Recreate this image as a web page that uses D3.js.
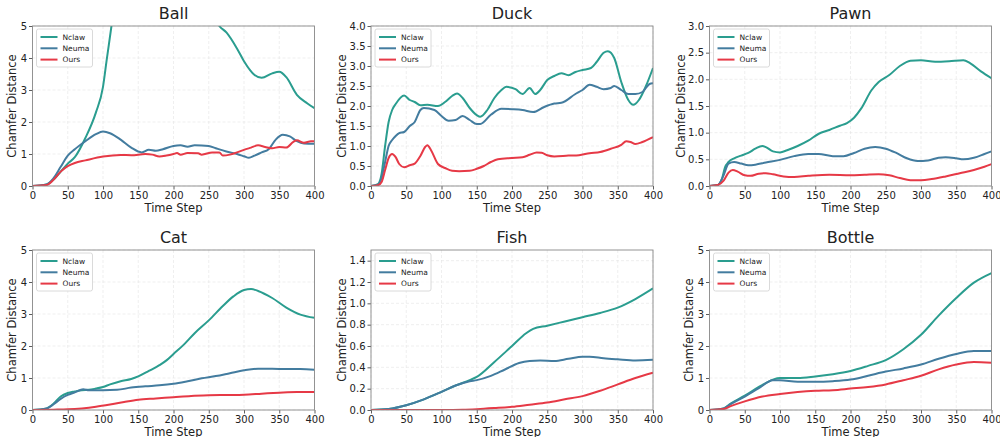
<!DOCTYPE html>
<html>
<head>
<meta charset="utf-8">
<script src="https://cdn.jsdelivr.net/npm/d3@7"></script>
<style>
  body { margin: 0; background: #fff; }
  text { font-family: "DejaVu Sans", sans-serif; fill: #222; }
</style>
</head>
<body>
<script>
// series names + colors
const seriesNames = ["Nclaw", "Neuma", "Ours"];
const seriesColors = ["#2a9d8f", "#437c9f", "#e63946"];
const xTicks = [0, 50, 100, 150, 200, 250, 300, 350, 400];

// values, [time step, chamfer distance]
const ballNclaw = [[0,0],[20,0.05],[30,0.2],[40,0.45],[50,0.7],[60,0.9],[75,1.5],[90,2.3],[100,3.1],[105,3.9],[112,5.0],[120,6.3],[150,8.5],[190,9],[230,7.5],[255,5.4],[265,5.0],[275,4.8],[290,4.3],[300,3.9],[315,3.47],[325,3.38],[340,3.52],[350,3.57],[360,3.4],[375,2.85],[390,2.58],[400,2.43]];
const ballNeuma = [[0,0],[20,0.05],[30,0.25],[40,0.6],[50,0.95],[60,1.15],[75,1.4],[90,1.62],[100,1.7],[110,1.65],[125,1.45],[140,1.2],[155,1.05],[165,1.13],[175,1.1],[185,1.15],[200,1.25],[210,1.27],[220,1.23],[230,1.27],[250,1.25],[260,1.18],[275,1.08],[290,1.0],[300,0.93],[307,0.88],[315,0.95],[325,1.05],[335,1.15],[345,1.45],[355,1.6],[365,1.55],[375,1.4],[385,1.33],[400,1.32]];
const ballOurs = [[0,0],[20,0.03],[30,0.2],[40,0.45],[50,0.62],[60,0.72],[75,0.8],[100,0.92],[125,0.97],[140,0.96],[160,1.0],[170,0.98],[180,0.92],[190,0.95],[200,1.0],[205,1.03],[210,0.98],[220,1.03],[235,1.02],[240,0.98],[255,1.05],[265,1.05],[270,0.95],[280,0.98],[290,1.05],[300,1.13],[310,1.2],[320,1.27],[330,1.22],[340,1.18],[350,1.22],[360,1.2],[370,1.38],[375,1.43],[385,1.35],[395,1.4],[400,1.4]];

const duckNclaw = [[0,0],[10,0.05],[15,0.3],[20,1.0],[25,1.6],[30,1.9],[35,2.05],[47,2.26],[55,2.15],[62,2.1],[70,2.02],[80,2.03],[95,2.0],[105,2.1],[115,2.25],[122,2.31],[130,2.2],[140,1.95],[150,1.77],[155,1.73],[165,1.9],[175,2.2],[185,2.4],[192,2.48],[205,2.42],[215,2.3],[225,2.45],[233,2.3],[240,2.4],[250,2.65],[260,2.75],[270,2.82],[280,2.77],[290,2.85],[300,2.9],[312,2.95],[320,3.1],[330,3.33],[336,3.37],[345,3.2],[355,2.6],[365,2.15],[372,2.03],[380,2.15],[390,2.5],[400,2.95]];
const duckNeuma = [[0,0],[10,0.03],[15,0.2],[20,0.6],[25,1.0],[30,1.15],[35,1.25],[40,1.32],[47,1.35],[55,1.5],[62,1.6],[70,1.9],[75,1.95],[90,1.9],[100,1.75],[110,1.63],[120,1.65],[130,1.75],[140,1.65],[150,1.55],[155,1.55],[170,1.78],[185,1.93],[200,1.92],[215,1.9],[230,1.85],[245,1.97],[260,2.06],[270,2.08],[290,2.3],[300,2.4],[310,2.53],[320,2.48],[330,2.42],[340,2.45],[345,2.5],[355,2.4],[365,2.3],[375,2.3],[385,2.35],[395,2.55],[400,2.57]];
const duckOurs = [[0,0],[10,0.02],[15,0.1],[20,0.4],[25,0.7],[30,0.8],[35,0.72],[40,0.55],[47,0.47],[55,0.52],[62,0.56],[70,0.75],[77,0.98],[80,1.02],[85,0.9],[95,0.55],[105,0.45],[115,0.38],[125,0.37],[140,0.38],[150,0.43],[160,0.5],[170,0.6],[180,0.67],[200,0.7],[215,0.72],[225,0.78],[235,0.84],[242,0.83],[250,0.77],[260,0.74],[280,0.76],[295,0.77],[310,0.82],[325,0.85],[340,0.93],[355,1.03],[362,1.12],[368,1.1],[375,1.05],[385,1.1],[400,1.22]];

const pawnNclaw = [[0,0],[12,0.02],[18,0.15],[22,0.35],[27,0.45],[35,0.52],[45,0.57],[55,0.62],[65,0.7],[75,0.75],[80,0.73],[90,0.65],[100,0.63],[110,0.67],[125,0.75],[140,0.85],[155,0.98],[170,1.05],[185,1.13],[195,1.18],[205,1.28],[215,1.45],[230,1.8],[240,1.95],[255,2.08],[270,2.25],[285,2.35],[300,2.36],[320,2.33],[340,2.34],[360,2.36],[370,2.3],[385,2.15],[400,2.02]];
const pawnNeuma = [[0,0],[12,0.02],[20,0.2],[27,0.42],[35,0.45],[45,0.42],[55,0.39],[65,0.4],[80,0.44],[100,0.49],[120,0.56],[140,0.6],[155,0.6],[175,0.56],[190,0.56],[205,0.62],[220,0.7],[235,0.73],[250,0.7],[265,0.62],[280,0.52],[295,0.47],[310,0.48],[325,0.53],[335,0.54],[350,0.52],[360,0.5],[375,0.53],[390,0.6],[400,0.65]];
const pawnOurs = [[0,0],[12,0.02],[20,0.1],[27,0.25],[33,0.3],[40,0.27],[50,0.2],[58,0.19],[70,0.23],[80,0.24],[90,0.22],[105,0.18],[120,0.17],[140,0.19],[170,0.21],[200,0.2],[220,0.21],[240,0.22],[255,0.2],[270,0.15],[285,0.11],[300,0.11],[315,0.13],[335,0.18],[355,0.24],[375,0.3],[390,0.36],[400,0.41]];

const catNclaw = [[0,0],[20,0.05],[30,0.2],[40,0.42],[50,0.53],[60,0.58],[70,0.62],[80,0.63],[90,0.67],[100,0.72],[110,0.8],[125,0.9],[140,0.97],[150,1.05],[165,1.22],[180,1.4],[190,1.55],[200,1.75],[215,2.05],[230,2.4],[250,2.8],[270,3.25],[285,3.55],[300,3.75],[310,3.78],[320,3.72],[340,3.5],[360,3.2],[380,2.98],[400,2.88]];
const catNeuma = [[0,0],[20,0.05],[30,0.18],[40,0.35],[50,0.47],[60,0.55],[72,0.65],[80,0.62],[100,0.62],[120,0.63],[140,0.7],[160,0.74],[180,0.77],[200,0.82],[220,0.9],[240,0.99],[260,1.06],[280,1.15],[300,1.24],[320,1.29],[340,1.29],[360,1.28],[380,1.28],[400,1.26]];
const catOurs = [[0,0],[30,0.01],[50,0.02],[70,0.05],[90,0.1],[110,0.17],[130,0.25],[150,0.32],[175,0.36],[200,0.4],[225,0.44],[250,0.46],[275,0.47],[300,0.48],[325,0.51],[350,0.54],[375,0.56],[400,0.56]];

const fishNclaw = [[0,0],[25,0.01],[50,0.045],[75,0.1],[100,0.17],[120,0.23],[140,0.28],[150,0.31],[175,0.45],[200,0.6],[220,0.72],[230,0.76],[250,0.79],[275,0.83],[300,0.87],[325,0.91],[350,0.96],[375,1.04],[400,1.14]];
const fishNeuma = [[0,0],[25,0.01],[50,0.045],[75,0.1],[100,0.17],[120,0.23],[140,0.27],[150,0.28],[170,0.32],[190,0.38],[210,0.44],[225,0.46],[240,0.465],[260,0.46],[280,0.48],[300,0.5],[310,0.5],[330,0.485],[350,0.475],[375,0.465],[400,0.47]];
const fishOurs = [[0,0],[100,0.001],[130,0.003],[150,0.008],[175,0.018],[200,0.03],[225,0.05],[250,0.07],[275,0.1],[300,0.13],[325,0.18],[350,0.24],[375,0.3],[400,0.35]];

const bottleNclaw = [[0,0],[20,0.05],[30,0.2],[50,0.45],[70,0.72],[90,0.95],[100,1.0],[125,1.0],[150,1.05],[175,1.12],[200,1.22],[225,1.38],[250,1.56],[275,1.9],[300,2.35],[325,2.95],[350,3.5],[375,3.98],[400,4.28]];
const bottleNeuma = [[0,0],[20,0.05],[30,0.18],[50,0.42],[70,0.68],[90,0.93],[100,0.93],[125,0.88],[150,0.88],[175,0.9],[200,0.95],[225,1.07],[250,1.2],[275,1.3],[300,1.42],[325,1.6],[350,1.75],[375,1.84],[400,1.84]];
const bottleOurs = [[0,0],[20,0.03],[30,0.12],[50,0.27],[75,0.42],[100,0.5],[125,0.56],[150,0.6],[175,0.62],[200,0.67],[225,0.72],[250,0.8],[275,0.93],[300,1.07],[325,1.27],[350,1.42],[375,1.5],[400,1.48]];

const panels = [
  { title: "Ball",   ymax: 5,   yticks: [0,1,2,3,4,5], fmt: d3.format("d"), series: [ballNclaw, ballNeuma, ballOurs] },
  { title: "Duck",   ymax: 4,   yticks: d3.range(0, 4.01, 0.5), fmt: d3.format(".1f"), series: [duckNclaw, duckNeuma, duckOurs] },
  { title: "Pawn",   ymax: 3,   yticks: d3.range(0, 3.01, 0.5), fmt: d3.format(".1f"), series: [pawnNclaw, pawnNeuma, pawnOurs] },
  { title: "Cat",    ymax: 5,   yticks: [0,1,2,3,4,5], fmt: d3.format("d"), series: [catNclaw, catNeuma, catOurs] },
  { title: "Fish",   ymax: 1.5, yticks: d3.range(0, 1.41, 0.2), fmt: d3.format(".1f"), series: [fishNclaw, fishNeuma, fishOurs] },
  { title: "Bottle", ymax: 5,   yticks: [0,1,2,3,4,5], fmt: d3.format("d"), series: [bottleNclaw, bottleNeuma, bottleOurs] }
];

const W = 1000, H = 437;
const lefts = [32.5, 371, 709.5], tops = [26, 250];
const pw = 282, ph = 160;

const svg = d3.select("body").append("svg")
  .attr("width", W).attr("height", H);

panels.forEach((p, i) => {
  const left = lefts[i % 3], top = tops[Math.floor(i / 3)];
  const g = svg.append("g").attr("transform", `translate(${left},${top})`);

  const x = d3.scaleLinear().domain([0, 400]).range([0, pw]);
  const y = d3.scaleLinear().domain([0, p.ymax]).range([ph, 0]);

  // grid
  g.append("g").selectAll("line").data(xTicks).enter().append("line")
    .attr("x1", d => x(d)).attr("x2", d => x(d)).attr("y1", 0).attr("y2", ph)
    .attr("stroke", "#e4e4e4").attr("stroke-width", 0.6).attr("stroke-dasharray", "3,2");
  g.append("g").selectAll("line").data(p.yticks).enter().append("line")
    .attr("x1", 0).attr("x2", pw).attr("y1", d => y(d)).attr("y2", d => y(d))
    .attr("stroke", "#e4e4e4").attr("stroke-width", 0.6).attr("stroke-dasharray", "3,2");

  const clipId = "clip" + i;
  g.append("clipPath").attr("id", clipId).append("rect")
    .attr("x", 0).attr("y", 0).attr("width", pw).attr("height", ph);

  const line = d3.line().x(d => x(d[0])).y(d => y(d[1])).curve(d3.curveMonotoneX);
  p.series.forEach((s, k) => {
    g.append("path").datum(s)
      .attr("clip-path", `url(#${clipId})`)
      .attr("d", line)
      .attr("fill", "none")
      .attr("stroke", seriesColors[k])
      .attr("stroke-width", 2)
      .attr("stroke-linejoin", "round");
  });

  // axes
  const xAxis = g.append("g").attr("transform", `translate(0,${ph})`)
    .call(d3.axisBottom(x).tickValues(xTicks).tickSize(3.5).tickPadding(2));
  const yAxis = g.append("g")
    .call(d3.axisLeft(y).tickValues(p.yticks).tickFormat(p.fmt).tickSize(3.5).tickPadding(2));
  [xAxis, yAxis].forEach(a => {
    a.select(".domain").remove();
    a.selectAll("line").attr("stroke", "#333").attr("stroke-width", 0.8);
    a.selectAll("text").attr("font-size", 10).attr("font-family", "DejaVu Sans").attr("fill", "#222");
  });

  g.append("rect").attr("width", pw).attr("height", ph)
    .attr("fill", "none").attr("stroke", "#888").attr("stroke-width", 0.9);

  g.append("text").attr("x", pw / 2).attr("y", -7)
    .attr("text-anchor", "middle").attr("font-size", 16).text(p.title);
  g.append("text").attr("x", pw / 2).attr("y", ph + 26)
    .attr("text-anchor", "middle").attr("font-size", 11.5).text("Time Step");
  // integer tick labels are narrow, so the label sits closer
  const labX = p.ymax === 5 ? -20.5 : -29;
  g.append("text").attr("transform", `translate(${labX},${ph / 2}) rotate(-90)`)
    .attr("text-anchor", "middle").attr("dy", "0.35em").attr("font-size", 11.5).text("Chamfer Distance");

  // legend
  const lg = g.append("g").attr("transform", "translate(4,3)");
  lg.append("rect").attr("width", 56).attr("height", 38).attr("rx", 2)
    .attr("fill", "#fff").attr("fill-opacity", 0.85)
    .attr("stroke", "#d0d0d0").attr("stroke-width", 0.8);
  seriesNames.forEach((n, k) => {
    const yy = 8 + k * 11.3;
    lg.append("line").attr("x1", 4).attr("x2", 21).attr("y1", yy).attr("y2", yy)
      .attr("stroke", seriesColors[k]).attr("stroke-width", 2);
    lg.append("text").attr("x", 26).attr("y", yy + 2.8).attr("font-size", 7.5).text(n);
  });
});
</script>
</body>
</html>
